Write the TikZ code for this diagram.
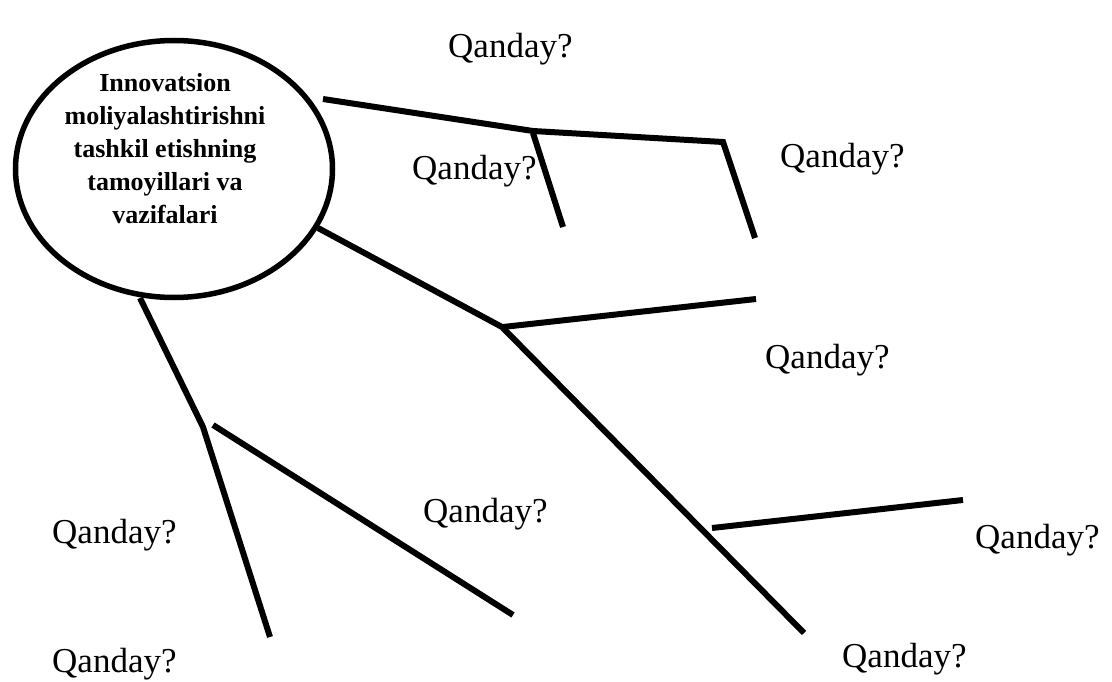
\documentclass[tikz,border=0pt]{standalone}
\usepackage{fontspec}
\setmainfont{Liberation Serif}
\usetikzlibrary{shapes.geometric}
\tikzset{
  branch/.style={line width=6pt, line join=miter, line cap=butt},
  q/.style={anchor=base west, inner sep=0pt, font=\fontsize{35}{42}\selectfont},
  hub/.style={ellipse, draw, line width=5.5pt, minimum width=317pt, minimum height=257pt, inner sep=0pt},
  hubtext/.style={align=center, inner sep=0pt, font=\bfseries\fontsize{26}{33}\selectfont}
}
\begin{document}
\begin{tikzpicture}[x=1pt,y=-1pt]
\useasboundingbox (0,0) rectangle (1112,682);
\node[hub] (c) at (174,169) {};
\node[hubtext] (ct) at (165,149) {Innovatsion\\moliyalashtirishni\\tashkil etishning\\tamoyillari va\\vazifalari};
% coordinates
\coordinate (s1) at (323,99);
\coordinate (j1) at (533,131);
\coordinate (k1) at (723,142);
\coordinate (e1) at (755,238);
\coordinate (j1b) at (533,133);
\coordinate (e1b) at (563,227);
\coordinate (s2) at (318,228);
\coordinate (j2) at (502,327);
\coordinate (e2) at (804,633);
\coordinate (j2a) at (503,327);
\coordinate (e2a) at (756,299);
\coordinate (j2b) at (712,528);
\coordinate (e2b) at (963,500);
\coordinate (s3) at (140,298);
\coordinate (j3) at (203,427);
\coordinate (e3) at (270,637);
\coordinate (j3b) at (213,425);
\coordinate (e3b) at (513,615);
% branches
\draw[branch] (s1) -- (j1) -- (k1) -- (e1);
\draw[branch] (j1b) -- (e1b);
\draw[branch] (s2) -- (j2) -- (e2);
\draw[branch] (j2a) -- (e2a);
\draw[branch] (j2b) -- (e2b);
\draw[branch] (s3) -- (j3) -- (e3);
\draw[branch] (j3b) -- (e3b);
% labels
\node[q] (q1) at (448,58) {Qanday?};
\node[q] (q2) at (412,180) {Qanday?};
\node[q] (q3) at (780,168) {Qanday?};
\node[q] (q4) at (765,368) {Qanday?};
\node[q] (q5) at (423,522) {Qanday?};
\node[q] (q6) at (52,543) {Qanday?};
\node[q] (q7) at (52,672) {Qanday?};
\node[q] (q8) at (975,548) {Qanday?};
\node[q] (q9) at (842,667) {Qanday?};
\end{tikzpicture}
\end{document}
